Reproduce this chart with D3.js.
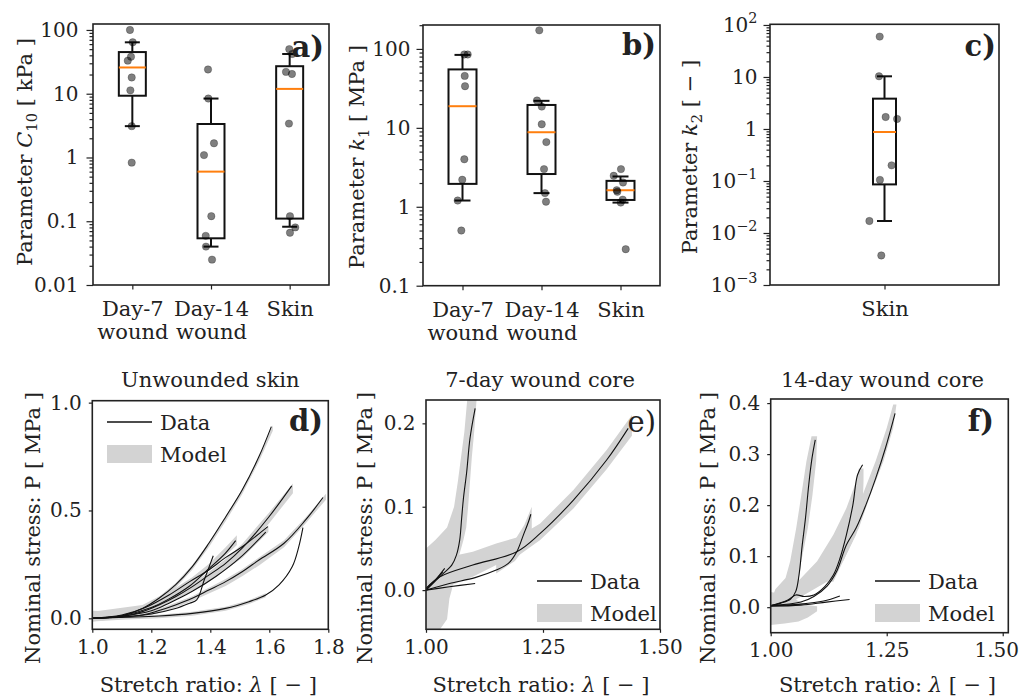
<!DOCTYPE html>
<html><head><meta charset="utf-8">
<script src="https://cdn.jsdelivr.net/npm/d3@7"></script>
<style>
body{margin:0;background:#fff}
svg{display:block}
text{font-family:"DejaVu Serif",serif;fill:#222}
</style>
</head><body>
<svg id="chart" width="1021" height="698"></svg>
<script>
// ---------------- DATA ----------------
const boxCategories = [["Day-7","wound"],["Day-14","wound"],["Skin"]];
const skinCategory = [["Skin"]];

// Panel a: C10 [kPa]
const c10Points = [
  [100, 64, 38, 33, 18, 11.3, 3.1, 0.83],
  [24, 8.4, 1.67, 1.09, 0.12, 0.059, 0.04, 0.025],
  [50, 42, 22, 20.4, 3.4, 0.12, 0.08, 0.066]
];
const c10Jitter = [
  [-0.03, 0.005, -0.017, -0.058, -0.008, -0.025, -0.008, -0.008],
  [-0.038, -0.034, 0.038, -0.089, 0.004, -0.067, -0.064, 0.013],
  [-0.005, 0.033, -0.047, 0.029, -0.009, 0.004, 0.071, 0.004]
];
const c10Low = [3.1, 0.04, 0.082];
const c10Q1 = [9.3, 0.054, 0.11];
const c10Median = [25.8, 0.6, 11.9];
const c10Q3 = [45, 3.35, 27];
const c10High = [64, 8.4, 42];
const c10TickValues = [0.01, 0.1, 1, 10, 100];
const c10TickLabels = ["0.01", "0.1", "1", "10", "100"];

// Panel b: k1 [MPa]
const k1Points = [
  [85, 85, 45.5, 33.7, 4.0, 2.2, 1.2, 0.5],
  [172, 22.2, 18.6, 11.1, 6.6, 3.0, 1.49, 1.16],
  [3.0, 2.47, 2.03, 1.62, 1.55, 1.23, 1.13, 0.29]
];
const k1Jitter = [
  [0.023, 0.066, 0.028, 0.032, 0.023, -0.003, -0.061, -0.015],
  [-0.028, -0.057, 0.003, 0.003, 0.061, 0.032, 0.044, 0.057],
  [0.006, -0.086, 0.032, -0.048, -0.04, 0.028, 0.003, 0.066]
];
const k1Low = [1.2, 1.49, 1.13];
const k1Q1 = [1.95, 2.6, 1.22];
const k1Median = [18.8, 8.8, 1.62];
const k1Q3 = [55, 19.5, 2.13];
const k1High = [84, 22, 2.42];
const k1TickValues = [0.1, 1, 10, 100];
const k1TickLabels = ["0.1", "1", "10", "100"];

// Panel c: k2 [-]
const k2Points = [[59.7, 10.3, 1.7, 1.56, 0.2, 0.105, 0.017, 0.0037]];
const k2Jitter = [[-0.021, -0.024, 0.005, 0.055, 0.031, -0.02, -0.066, -0.014]];
const k2Low = [0.017];
const k2Q1 = [0.086];
const k2Median = [0.875];
const k2Q3 = [3.83];
const k2High = [10.3];
const k2TickValues = [1e-3, 1e-2, 1e-1, 1, 10, 100];
const k2TickLabels = ["10^−3", "10^−2", "10^−1", "1", "10", "10^2"];

// Panel d: unwounded skin  (lambda, P)
const dData = [
  [[1.0,0.0],[1.1,0.012],[1.17,0.046],[1.226,0.093],[1.282,0.155],[1.339,0.24],[1.395,0.348],[1.452,0.47],[1.508,0.595],[1.565,0.75],[1.607,0.889]],
  [[1.0,0.0],[1.113,0.011],[1.17,0.031],[1.226,0.062],[1.282,0.1],[1.339,0.147],[1.395,0.2],[1.452,0.255],[1.508,0.325],[1.599,0.471],[1.676,0.614]],
  [[1.0,0.0],[1.17,0.015],[1.226,0.036],[1.282,0.062],[1.339,0.093],[1.395,0.131],[1.452,0.17],[1.508,0.216],[1.565,0.27],[1.65,0.348],[1.723,0.456],[1.782,0.56]],
  [[1.0,0.0],[1.113,0.005],[1.226,0.011],[1.339,0.023],[1.452,0.046],[1.531,0.077],[1.588,0.108],[1.633,0.155],[1.678,0.24],[1.70,0.332],[1.714,0.42]],
  [[1.0,0.0],[1.1,0.015],[1.18,0.05],[1.26,0.108],[1.33,0.17],[1.395,0.224],[1.45,0.28],[1.508,0.332],[1.595,0.425]],
  [[1.0,0.0],[1.1,0.01],[1.2,0.035],[1.26,0.07],[1.339,0.125],[1.42,0.195],[1.5,0.28],[1.588,0.40]],
  [[1.0,0.0],[1.1,0.012],[1.2,0.05],[1.26,0.09],[1.33,0.15],[1.395,0.23],[1.45,0.3],[1.486,0.36]],
  [[1.0,0.0],[1.1,0.006],[1.2,0.02],[1.282,0.045],[1.33,0.07],[1.354,0.085],[1.38,0.18],[1.41,0.29]]
];
// model bands (lambda, Plow, Phigh)
const dModel = [
  [[1.0,-0.015,0.035],[1.1,0.0,0.03],[1.17,0.035,0.055],[1.226,0.08,0.1],[1.282,0.14,0.162],[1.339,0.225,0.247],[1.395,0.33,0.352],[1.452,0.45,0.472],[1.508,0.575,0.597],[1.565,0.727,0.747],[1.612,0.87,0.895]],
  [[1.0,-0.012,0.02],[1.113,0.0,0.02],[1.17,0.022,0.04],[1.226,0.05,0.07],[1.282,0.085,0.11],[1.339,0.13,0.16],[1.395,0.18,0.215],[1.452,0.235,0.275],[1.508,0.3,0.345],[1.599,0.44,0.49],[1.68,0.58,0.625]],
  [[1.0,-0.012,0.015],[1.17,0.005,0.022],[1.226,0.025,0.044],[1.282,0.05,0.072],[1.339,0.08,0.102],[1.395,0.115,0.142],[1.452,0.15,0.182],[1.508,0.195,0.227],[1.565,0.245,0.282],[1.65,0.33,0.362],[1.723,0.44,0.467],[1.792,0.55,0.578]],
  [[1.0,-0.015,0.005],[1.113,-0.005,0.01],[1.226,0.0,0.016],[1.339,0.012,0.03],[1.452,0.035,0.053],[1.531,0.066,0.084],[1.588,0.098,0.116]],
  [[1.0,0.0,0.03],[1.17,0.04,0.062],[1.282,0.11,0.14],[1.339,0.16,0.19],[1.395,0.22,0.252],[1.452,0.29,0.33],[1.49,0.34,0.385]],
  [[1.0,-0.005,0.02],[1.17,0.03,0.052],[1.282,0.09,0.117],[1.395,0.17,0.2],[1.508,0.28,0.312],[1.597,0.4,0.432]]
];
const dModelH = [];

// Panel e: 7-day wound core
const eData = [
  [[1.0,0.0],[1.033,0.018],[1.055,0.03],[1.065,0.042],[1.072,0.06],[1.076,0.085],[1.08,0.11],[1.087,0.142],[1.094,0.182],[1.105,0.218]],
  [[1.0,0.002],[1.03,0.016],[1.1,0.03],[1.194,0.046],[1.244,0.068],[1.315,0.108],[1.386,0.156],[1.432,0.194]],
  [[1.0,0.0],[1.05,0.008],[1.105,0.015],[1.15,0.024],[1.176,0.032],[1.194,0.046],[1.208,0.066],[1.219,0.082],[1.224,0.091]],
  [[1.0,0.0],[1.05,0.004],[1.105,0.008]],
  [[1.0,0.0],[1.02,0.012],[1.04,0.026]],
  [[1.0,0.002],[1.025,0.015],[1.036,0.022]]
];
const eModel = [
  [[1.0,-0.005,0.025],[1.05,0.005,0.04],[1.1,0.016,0.046],[1.15,0.03,0.056],[1.194,0.04,0.063],[1.244,0.06,0.08],[1.315,0.098,0.12],[1.386,0.145,0.168],[1.44,0.185,0.21]],
  [[1.15,0.02,0.04],[1.19,0.035,0.06],[1.21,0.05,0.078],[1.226,0.062,0.1]]
];
// model bands (P, lambdaLow, lambdaHigh)
const eModelH = [
  [[-0.047,1.0,1.03],[-0.035,1.0,1.045],[-0.01,1.0,1.05],[0.0,1.0,1.055],[0.02,1.0,1.062],[0.04,1.0,1.07],[0.05,1.0,1.075],[0.06,1.02,1.08],[0.075,1.045,1.086],[0.1,1.06,1.09],[0.13,1.068,1.094],[0.16,1.075,1.098],[0.19,1.082,1.103],[0.228,1.088,1.108]]
];

// Panel f: 14-day wound core
const fData = [
  [[1.0,0.003],[1.022,0.008],[1.043,0.016],[1.054,0.031],[1.061,0.063],[1.068,0.122],[1.075,0.175],[1.082,0.24],[1.089,0.292],[1.096,0.328]],
  [[1.0,0.003],[1.037,0.014],[1.054,0.024],[1.072,0.021],[1.093,0.024],[1.117,0.041],[1.135,0.063],[1.149,0.095],[1.163,0.141],[1.177,0.2],[1.187,0.259],[1.198,0.279]],
  [[1.0,0.003],[1.065,0.01],[1.093,0.021],[1.121,0.041],[1.142,0.07],[1.163,0.122],[1.184,0.155],[1.205,0.2],[1.226,0.252],[1.247,0.311],[1.268,0.38]],
  [[1.0,0.003],[1.065,0.006],[1.114,0.012],[1.149,0.022]],
  [[1.0,0.002],[1.065,0.004],[1.12,0.01],[1.17,0.015]]
];
const fModel = [
  [[1.0,-0.035,0.03],[1.03,-0.032,0.025],[1.06,-0.028,0.012],[1.08,-0.02,0.004],[1.1,-0.008,0.002]]
];
const fModelH = [
  [[0.01,1.0,1.055],[0.035,1.01,1.056],[0.057,1.032,1.061],[0.09,1.042,1.066],[0.155,1.055,1.08],[0.22,1.066,1.09],[0.286,1.077,1.098],[0.335,1.088,1.1]],
  [[0.013,1.02,1.05],[0.024,1.025,1.072],[0.05,1.058,1.121],[0.09,1.1,1.156],[0.142,1.135,1.184],[0.194,1.163,1.198],[0.246,1.184,1.2],[0.272,1.19,1.2]],
  [[0.05,1.117,1.135],[0.09,1.138,1.156],[0.155,1.17,1.19],[0.22,1.198,1.215],[0.286,1.226,1.243],[0.351,1.25,1.264],[0.397,1.264,1.271]]
];

const dXTicks = [1.0,1.2,1.4,1.6,1.8], dXLabels = ["1.0","1.2","1.4","1.6","1.8"];
const dYTicks = [0.0,0.5,1.0], dYLabels = ["0.0","0.5","1.0"];
const eXTicks = [1.0,1.25,1.5], eXLabels = ["1.00","1.25","1.50"];
const eYTicks = [0.0,0.1,0.2], eYLabels = ["0.0","0.1","0.2"];
const fXTicks = [1.0,1.25,1.5], fXLabels = ["1.00","1.25","1.50"];
const fYTicks = [0.0,0.1,0.2,0.3,0.4], fYLabels = ["0.0","0.1","0.2","0.3","0.4"];

// ---------------- DRAWING ----------------
const svg = d3.select("#chart");
const FS = 21, TFS = 20;
const GREY = "#d3d3d3";
const W = 1021;

function styleAxis(g, fs){
  g.attr("font-family", "DejaVu Serif").attr("font-size", fs);
  g.select(".domain").remove();
  g.selectAll(".tick line").attr("stroke", "#222").attr("stroke-width", 1.2);
  g.selectAll(".tick text").attr("fill", "#222");
}
function frame(x0,x1,y0,y1){
  svg.append("rect").attr("x",x0).attr("y",y0).attr("width",x1-x0).attr("height",y1-y0)
    .attr("fill","none").attr("stroke","#222").attr("stroke-width",1.6);
}
function panelLabel(txt, x, y, bold){
  svg.append("text").attr("x",x).attr("y",y).attr("text-anchor","end")
    .attr("font-size",29).attr("font-weight", bold ? "bold" : "normal").text(txt);
}
function logMinor(domain){
  const out=[]; const k0=Math.floor(Math.log10(domain[0])), k1=Math.ceil(Math.log10(domain[1]));
  for(let k=k0;k<=k1;k++) for(let m=2;m<=9;m++){ const v=m*Math.pow(10,k); if(v>domain[0]&&v<domain[1]) out.push(v); }
  return out;
}
function yLabel(cx, cy, parts){
  const t = svg.append("text").attr("transform",`translate(${cx},${cy}) rotate(-90)`)
    .attr("text-anchor","middle").attr("dy","0.35em").attr("font-size",FS);
  parts.forEach(p=>{
    const s = t.append("tspan").text(p.t);
    if(p.i) s.attr("font-style","italic");
    if(p.sub) { s.attr("font-size",FS*0.7).attr("dy", 5); }
    if(p.back) s.attr("dy", -5);
  });
}

function boxPanel(o){
  const x = d3.scaleLinear().domain([0.5, o.cats.length+0.5]).range([o.x0,o.x1]);
  const y = d3.scaleLog().domain(o.domain).range([o.y1,o.y0]);
  const gm = svg.append("g").attr("transform",`translate(${o.x0},0)`)
    .call(d3.axisLeft(y).tickValues(logMinor(o.domain)).tickFormat("").tickSize(3.5));
  styleAxis(gm, TFS);
  const ga = svg.append("g").attr("transform",`translate(${o.x0},0)`)
    .call(d3.axisLeft(y).tickValues(o.tickValues).tickFormat((d,i)=>o.tickLabels[i]).tickSize(6.5).tickPadding(o.pad));
  styleAxis(ga, TFS);
  ga.selectAll(".tick text").each(function(d,i){
    const lab = o.tickLabels[i];
    const el = d3.select(this);
    if(lab.includes("^")){
      const [b,e] = lab.split("^");
      el.text(null);
      el.append("tspan").text(b);
      el.append("tspan").attr("dy",-9).attr("font-size",TFS*0.72).text(e);
    }
  });
  const gx = svg.append("g").attr("transform",`translate(0,${o.y1})`)
    .call(d3.axisBottom(x).tickValues(o.cats.map((c,i)=>i+1)).tickFormat("").tickSize(4.5));
  styleAxis(gx, FS);
  gx.selectAll(".tick").each(function(d,i){
    const t = d3.select(this).append("text").attr("fill","#222").attr("text-anchor","middle").attr("y", 31).attr("font-size",FS);
    o.cats[i].forEach((ln,k)=> t.append("tspan").attr("x",0).attr("dy", k===0?0:23).text(ln));
  });
  o.cats.forEach((c,i)=>{
    const cx = x(i+1), g = svg.append("g");
    const hw = o.boxW/2, cw = o.capW/2;
    const ln = (x1,x2,y1,y2,col)=> g.append("line").attr("x1",x1).attr("x2",x2).attr("y1",y1).attr("y2",y2).attr("stroke",col||"#111").attr("stroke-width",2);
    ln(cx,cx,y(o.low[i]),y(o.q1[i]));
    ln(cx,cx,y(o.q3[i]),y(o.high[i]));
    ln(cx-cw,cx+cw,y(o.low[i]),y(o.low[i]));
    ln(cx-cw,cx+cw,y(o.high[i]),y(o.high[i]));
    g.append("rect").attr("x",cx-hw).attr("width",o.boxW).attr("y",y(o.q3[i])).attr("height",y(o.q1[i])-y(o.q3[i]))
      .attr("fill","none").attr("stroke","#111").attr("stroke-width",2);
    ln(cx-hw,cx+hw,y(o.median[i]),y(o.median[i]),"#ff7f0e");
    g.selectAll("circle").data(o.points[i]).join("circle")
      .attr("cx",(d,k)=>x(i+1+o.jitter[i][k])).attr("cy",d=>y(d)).attr("r",3.7)
      .attr("fill","#000").attr("fill-opacity",0.5).attr("stroke","#000").attr("stroke-opacity",0.3).attr("stroke-width",0.8);
  });
  frame(o.x0,o.x1,o.y0,o.y1);
}

boxPanel({x0:93,x1:329,y0:24,y1:285,domain:[0.01,124],cats:boxCategories,points:c10Points,jitter:c10Jitter,
  low:c10Low,q1:c10Q1,median:c10Median,q3:c10Q3,high:c10High,tickValues:c10TickValues,tickLabels:c10TickLabels,
  boxW:27,capW:15,pad:8});
boxPanel({x0:423,x1:660,y0:25,y1:285.7,domain:[0.1,201],cats:boxCategories,points:k1Points,jitter:k1Jitter,
  low:k1Low,q1:k1Q1,median:k1Median,q3:k1Q3,high:k1High,tickValues:k1TickValues,tickLabels:k1TickLabels,
  boxW:28,capW:16,pad:6});
boxPanel({x0:770,x1:999,y0:24.3,y1:285,domain:[0.001,103],cats:skinCategory,points:k2Points,jitter:k2Jitter,
  low:k2Low,q1:k2Q1,median:k2Median,q3:k2Q3,high:k2High,tickValues:k2TickValues,tickLabels:k2TickLabels,
  boxW:23,capW:15,pad:6});

yLabel(25, 152, [{t:"Parameter "},{t:"C",i:true},{t:"10",sub:true},{t:" [ kPa ]",back:true}]);
yLabel(357, 157, [{t:"Parameter "},{t:"k",i:true},{t:"1",sub:true},{t:" [ MPa ]",back:true}]);
yLabel(690, 157, [{t:"Parameter "},{t:"k",i:true},{t:"2",sub:true},{t:" [ − ]",back:true}]);
panelLabel("a)", 324, 57, true);
panelLabel("b)", 656, 55, true);
panelLabel("c)", 996, 56, true);

let clipId = 0;
function curvePanel(o){
  const x = d3.scaleLinear().domain(o.xd).range([o.x0,o.x1]);
  const y = d3.scaleLinear().domain(o.yd).range([o.y1,o.y0]);
  const id = "clip"+(clipId++);
  svg.append("clipPath").attr("id",id).append("rect").attr("x",o.x0).attr("y",o.y0).attr("width",o.x1-o.x0).attr("height",o.y1-o.y0);
  const g = svg.append("g").attr("clip-path",`url(#${id})`);
  const areaV = d3.area().x(d=>x(d[0])).y0(d=>y(d[1])).y1(d=>y(d[2])).curve(d3.curveLinear);
  const areaH = d3.area().y(d=>y(d[0])).x0(d=>x(d[1])).x1(d=>x(d[2])).curve(d3.curveLinear);
  g.selectAll("path.bv").data(o.bandsV).join("path").attr("class","bv").attr("d",areaV).attr("fill",GREY);
  g.selectAll("path.bh").data(o.bandsH).join("path").attr("class","bh").attr("d",areaH).attr("fill",GREY);
  const line = d3.line().x(d=>x(d[0])).y(d=>y(d[1])).curve(d3.curveCatmullRom.alpha(0.5));
  g.selectAll("path.dl").data(o.lines).join("path").attr("class","dl").attr("d",line)
    .attr("fill","none").attr("stroke","#111").attr("stroke-width",1.1);
  const gx = svg.append("g").attr("transform",`translate(0,${o.y1})`)
    .call(d3.axisBottom(x).tickValues(o.xt).tickFormat((d,i)=>o.xl[i]).tickSize(3.5).tickPadding(7));
  styleAxis(gx, TFS);
  gx.selectAll(".tick text").each(function(){
    const bb = this.getBBox();
    const tr = d3.select(this.parentNode).attr("transform");
    const tx = +tr.match(/translate\(([-\d.]+)/)[1];
    const over = tx + bb.x + bb.width - (W - 2);
    if(over > 0) d3.select(this).attr("x", -over);
  });
  const gy = svg.append("g").attr("transform",`translate(${o.x0},0)`)
    .call(d3.axisLeft(y).tickValues(o.yt).tickFormat((d,i)=>o.yl[i]).tickSize(3.5).tickPadding(7));
  styleAxis(gy, TFS);
  frame(o.x0,o.x1,o.y0,o.y1);
  svg.append("text").attr("x",(o.x0+o.x1)/2 + o.tdx).attr("y",387).attr("text-anchor","middle").attr("font-size",FS).text(o.title);
  const xl = svg.append("text").attr("x",(o.x0+o.x1)/2 - 2).attr("y",692).attr("text-anchor","middle").attr("font-size",FS);
  xl.append("tspan").text("Stretch ratio: ");
  xl.append("tspan").attr("font-style","italic").text("λ");
  xl.append("tspan").text(" [ − ]");
  svg.append("text").attr("transform",`translate(${o.ylx},528) rotate(-90)`).attr("text-anchor","middle").attr("dy","0.35em")
    .attr("font-size",FS).text("Nominal stress: P [ MPa ]");
  const L = o.leg;
  svg.append("line").attr("x1",L.x).attr("x2",L.x+45).attr("y1",L.y).attr("y2",L.y).attr("stroke","#111").attr("stroke-width",1.3);
  svg.append("text").attr("x",L.x+53).attr("y",L.y+8).attr("font-size",FS).text("Data");
  svg.append("rect").attr("x",L.x).attr("y",L.y+23).attr("width",45).attr("height",18).attr("fill",GREY);
  svg.append("text").attr("x",L.x+53).attr("y",L.y+40).attr("font-size",FS).text("Model");
}

curvePanel({x0:92.3,x1:328.3,y0:400.7,y1:629.3,xd:[1.0,1.8],yd:[-0.051,1.009],lines:dData,bandsV:dModel,bandsH:dModelH,
  xt:dXTicks,xl:dXLabels,yt:dYTicks,yl:dYLabels,title:"Unwounded skin",tdx:0,ylx:33,leg:{x:107,y:422}});
curvePanel({x0:426,x1:660,y0:400,y1:629.3,xd:[1.0,1.5],yd:[-0.047,0.228],lines:eData,bandsV:eModel,bandsH:eModelH,
  xt:eXTicks,xl:eXLabels,yt:eYTicks,yl:eYLabels,title:"7-day wound core",tdx:-3,ylx:365,leg:{x:537,y:581}});
curvePanel({x0:770.7,x1:1008.3,y0:399,y1:632.7,xd:[1.0,1.512],yd:[-0.05,0.408],lines:fData,bandsV:fModel,bandsH:fModelH,
  xt:fXTicks,xl:fXLabels,yt:fYTicks,yl:fYLabels,title:"14-day wound core",tdx:-7,ylx:708,leg:{x:875,y:581}});

panelLabel("d)", 323, 431, true);
panelLabel("e)", 656, 432, false);
panelLabel("f)", 994, 431, true);
</script>
</body></html>
